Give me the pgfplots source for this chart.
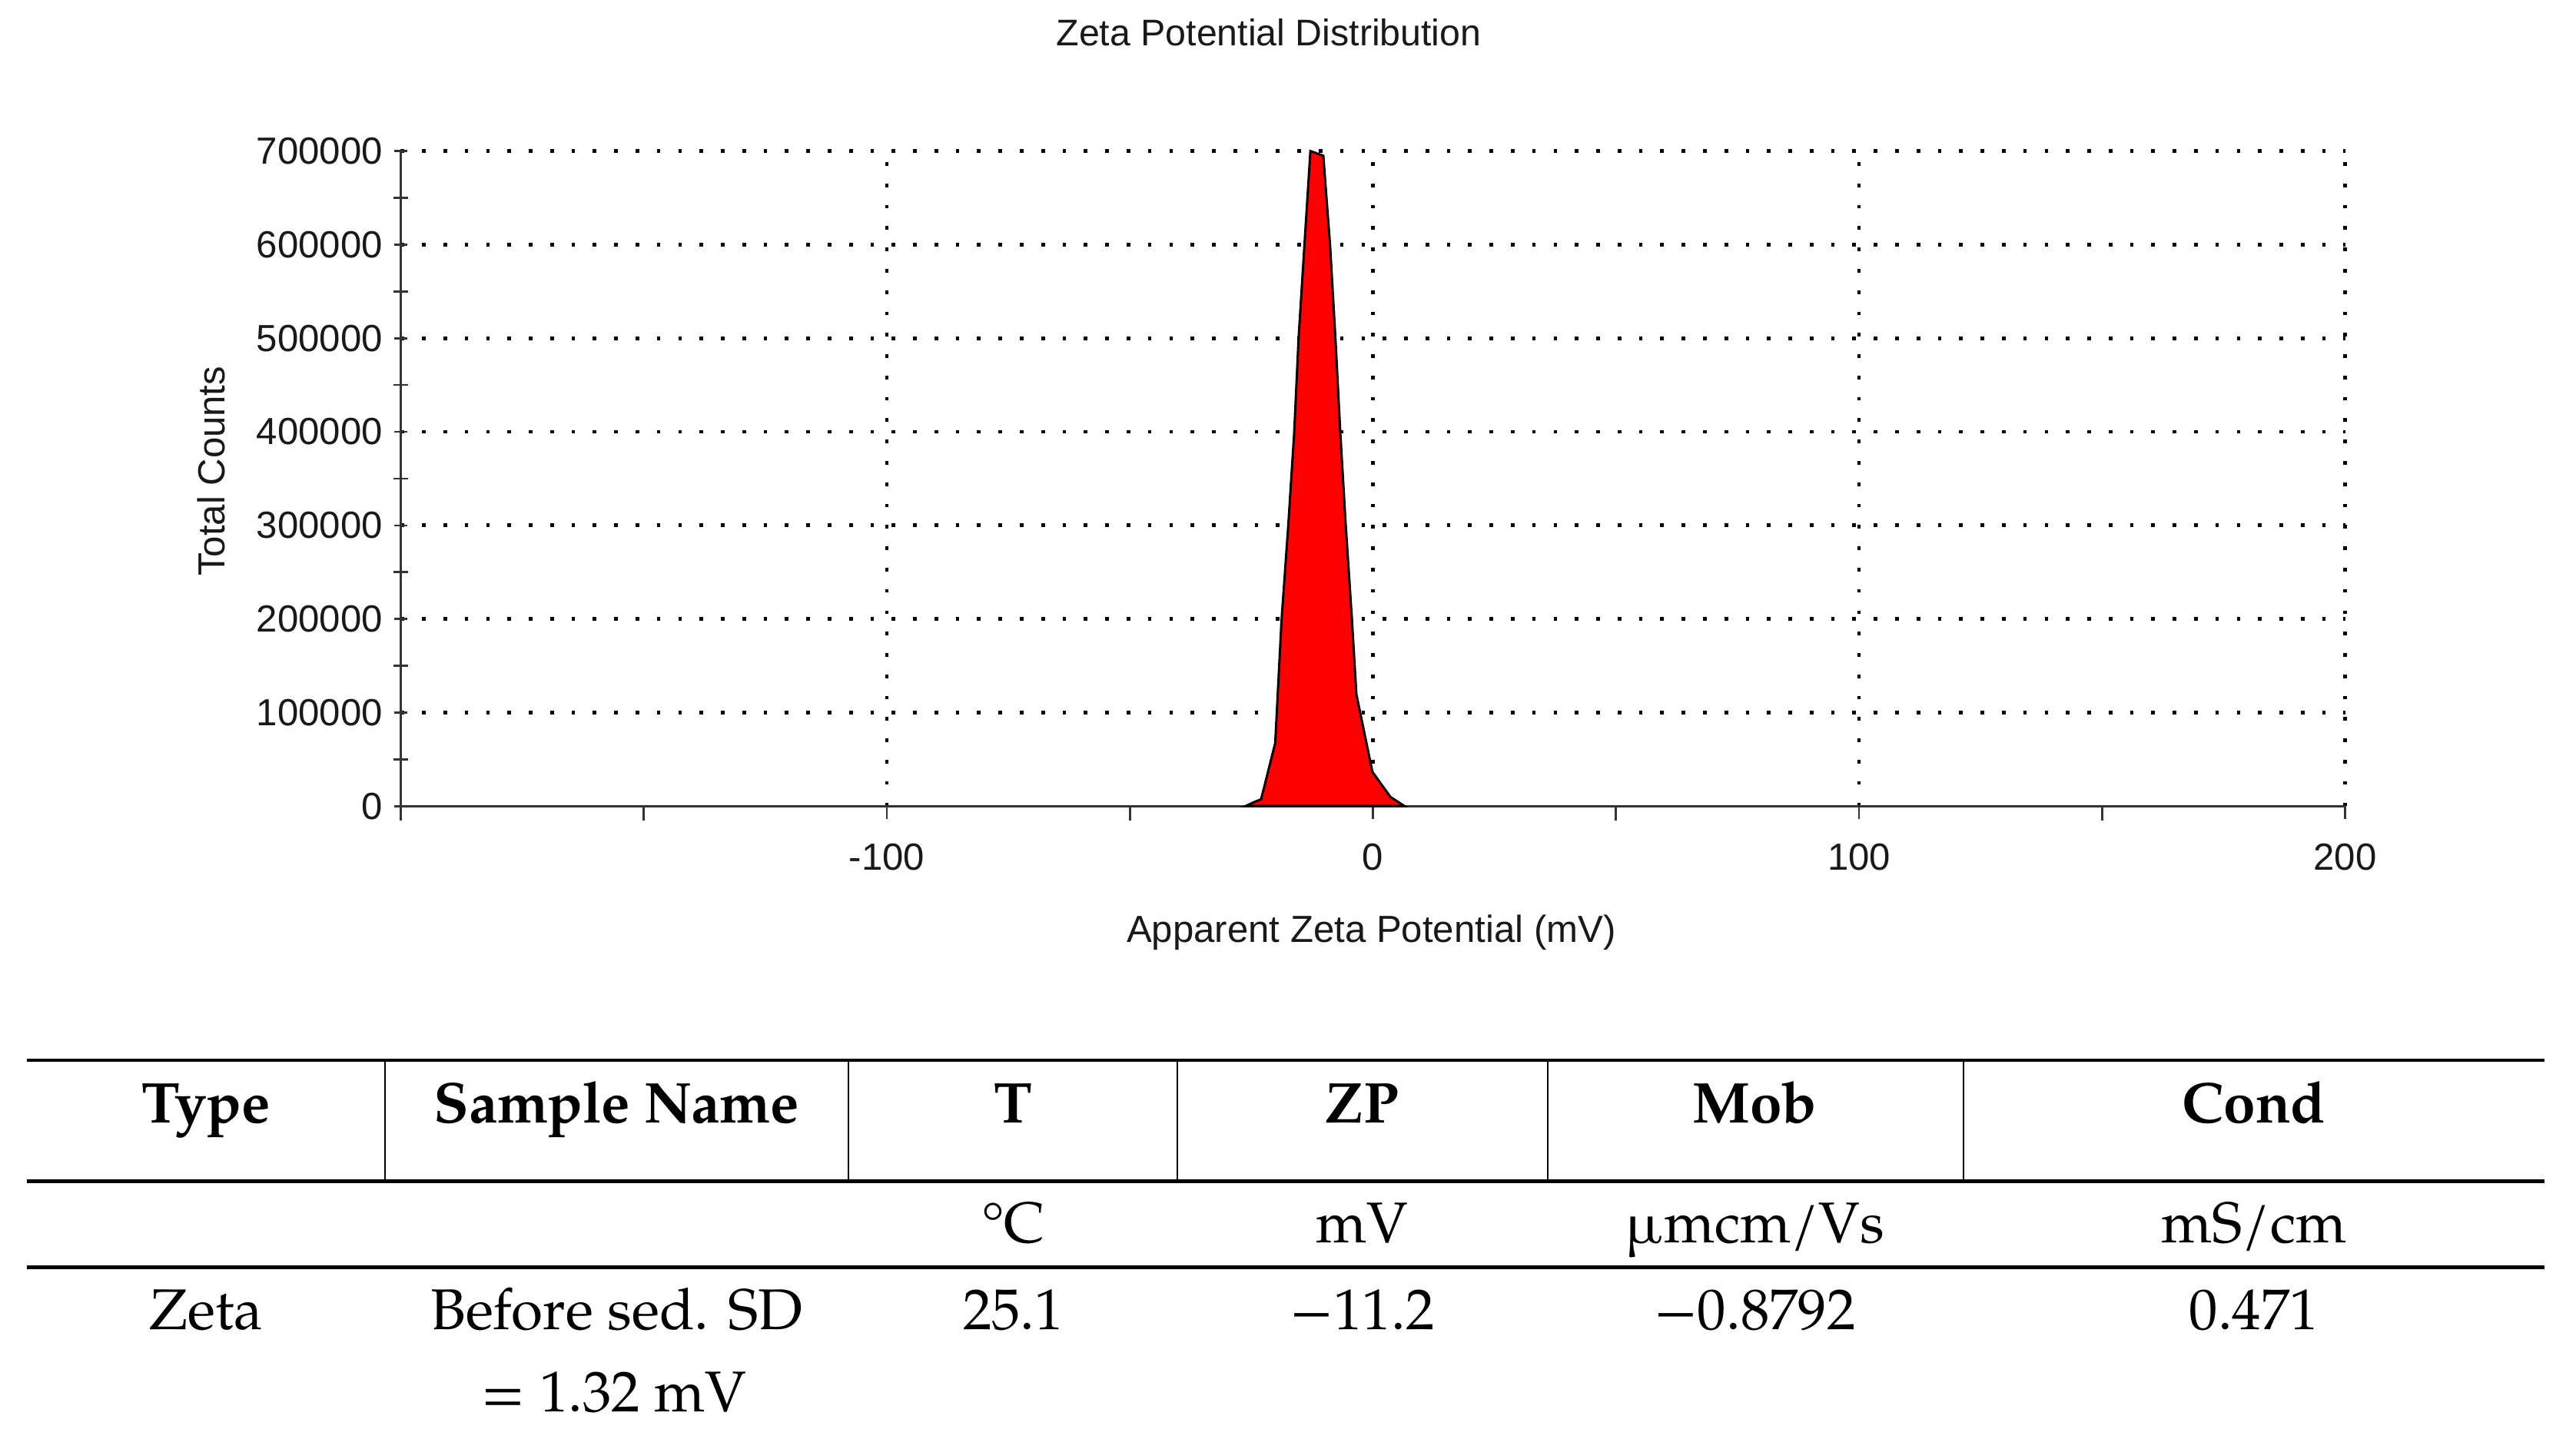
\documentclass[border=0pt]{standalone}
\usepackage{pgfplots}
\pgfplotsset{compat=1.18}
\usepackage{fontspec}
\setmainfont{TeX Gyre Pagella}
\newfontfamily\arial{Liberation Sans}

\begin{document}
\begin{tikzpicture}
\useasboundingbox (0pt,0pt) rectangle (784.3pt,-438.2pt);
\begin{axis}[
  at={(122pt,-245.5pt)}, anchor=south west,
  width=592pt, height=199.5pt, scale only axis,
  xmin=-200, xmax=200, ymin=0, ymax=700000,
  axis x line=bottom, axis y line=left,
  axis line style={-, line width=0.75pt, black!80},
  xtick={-100,0,100,200},
  xticklabels={-100,0,100,200},
  minor xtick={-200,-150,-50,50,150},
  ytick={100000,200000,300000,400000,500000,600000,700000},
  yticklabels={100000,200000,300000,400000,500000,600000,700000},
  extra y ticks={0},
  extra y tick labels={0},
  extra y tick style={grid=none},
  minor ytick={50000,150000,250000,350000,450000,550000,650000},
  scaled y ticks=false,
  tick style={black!80, line width=0.6pt},
  major tick length=4pt, minor tick length=4.5pt,
  xtick align=outside, ytick align=center,
  xmajorgrids, ymajorgrids,
  major grid style={black, line width=1.1pt, dash pattern=on 1.1pt off 5.4pt},
  ticklabel style={font=\arial\fontsize{11.5}{13}\selectfont, text=black!90},
  xticklabel style={yshift=-4pt},
  clip=false,
]
\addplot[fill=red, draw=black, line width=0.7pt] coordinates {
(-26.2,0) (-24.6,3900) (-23.0,7300) (-20.1,67300) (-18.8,198500) (-17.4,301000)
(-16.2,398500) (-15.3,499000) (-14.1,598500) (-12.86,700000) (-10.2,695000)
(-8.8,598500) (-7.7,499000) (-6.7,398500) (-5.6,301000) (-4.3,198500)
(-3.4,119500) (-0.1,36600) (3.6,9800) (6.5,0)
} \closedcycle;
\end{axis}

\node[anchor=base, font=\arial\fontsize{11.3}{13}\selectfont, text=black!90] at (386.3pt,-14pt) {Zeta Potential Distribution};
\node[anchor=base, font=\arial\fontsize{11.5}{13}\selectfont, text=black!90] at (417.5pt,-287pt) {Apparent Zeta Potential (mV)};
\node[anchor=base, rotate=90, font=\arial\fontsize{11.5}{13}\selectfont, text=black!90] at (68.5pt,-143.5pt) {Total Counts};

\begin{scope}[x=0.5pt,y=-0.5pt]
\draw[line width=1.1pt] (16.2,645.8) -- (1549.2,645.8);
\draw[line width=1.1pt] (16.2,719.4) -- (1549.2,719.4);
\draw[line width=1.1pt] (16.2,772) -- (1549.2,772);
\foreach \xx in {234.5,516.7,717,942.4,1195.5}{
  \draw[line width=0.55pt] (\xx,645.8) -- (\xx,719.4);
}
\tikzset{tt/.style={anchor=base, font=\fontsize{17.5}{20}\selectfont}}
\node[tt] at (125.5,684) {\bfseries Type};
\node[tt] at (375.5,684) {\bfseries Sample Name};
\node[tt] at (617,684) {\bfseries T};
\node[tt] at (829.5,684) {\bfseries ZP};
\node[tt] at (1068.5,684) {\bfseries Mob};
\node[tt] at (1372.5,684) {\bfseries Cond};
\node[tt] at (617,757) {°C};
\node[tt] at (829.5,757) {mV};
\node[tt] at (1068.5,757) {µmcm/Vs};
\node[tt] at (1372.5,757) {mS/cm};
\node[tt] at (125.5,809.6) {Zeta};
\node[tt] at (375.5,809.6) {Before sed. SD};
\node[tt] at (374,860) {= 1.32 mV};
\node[tt] at (617,809.6) {25.1};
\node[tt] at (829.5,809.6) {−11.2};
\node[tt] at (1068.5,809.6) {−0.8792};
\node[tt] at (1372.5,809.6) {0.471};
\end{scope}
\end{tikzpicture}
\end{document}
